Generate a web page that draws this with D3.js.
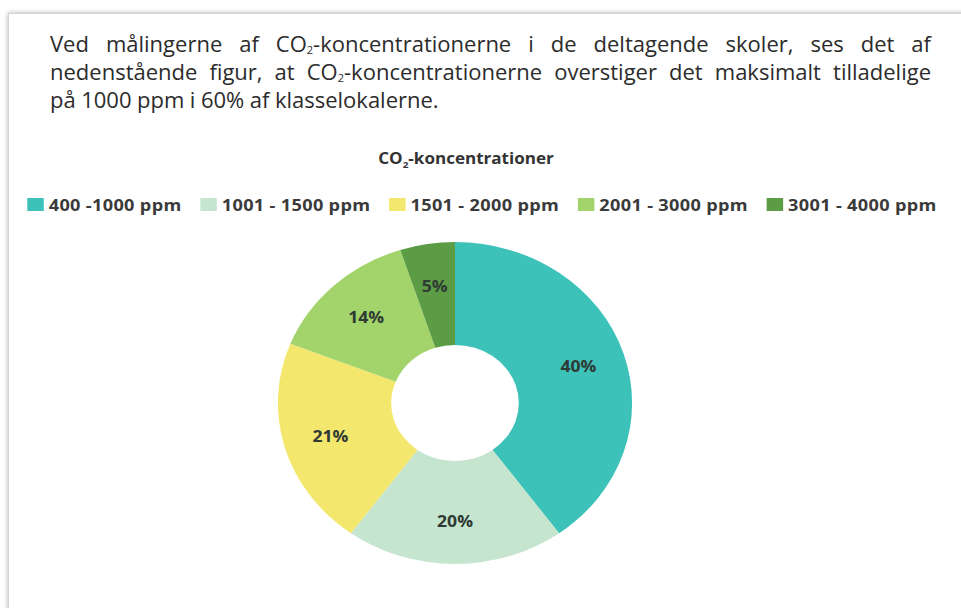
<!DOCTYPE html>
<html>
<head>
<meta charset="utf-8">
<script src="https://cdn.jsdelivr.net/npm/d3@7"></script>
<style>
html, body { margin: 0; padding: 0; background: #fff; }
svg { display: block; }
</style>
</head>
<body>
<svg id="chart" width="961" height="608"></svg>
<script>
// data
const categories = ["400 -1000 ppm", "1001 - 1500 ppm", "1501 - 2000 ppm", "2001 - 3000 ppm", "3001 - 4000 ppm"];
const shares = [40, 20, 21, 14, 5];
const sliceColors = ["#3cc2b8", "#c5e5cf", "#f4e76e", "#a3d46c", "#5c9c45"];
const chartTitle = "CO_2-koncentrationer";
const paragraphLines = [
    "Ved målingerne af CO_2-koncentrationerne i de deltagende skoler, ses det af",
    "nedenstående figur, at CO_2-koncentrationerne overstiger det maksimalt tilladelige",
    "på 1000 ppm i 60% af klasselokalerne."
];

const svg = d3.select("#chart");
const font = "'Open Sans', 'Noto Sans', sans-serif";

// "_2" marks a subscript 2
const richText = (t, str, subSize, subDy) => {
    str.split("_2").forEach((p, i) => {
        if (i > 0) {
            t.append("tspan").attr("dy", subDy).attr("font-size", subSize).text("2");
            t.append("tspan").attr("dy", -subDy).text(p);
        } else {
            t.append("tspan").text(p);
        }
    });
    return t;
};

// page sheet with shadow
const defs = svg.append("defs");
const f = defs.append("filter").attr("id", "shadow").attr("x", "-5%").attr("y", "-5%")
    .attr("width", "110%").attr("height", "110%");
f.append("feDropShadow").attr("dx", 0).attr("dy", 0).attr("stdDeviation", 2.5)
    .attr("flood-color", "#000").attr("flood-opacity", 0.3);

svg.append("rect")
    .attr("x", 8.5).attr("y", 13.5)
    .attr("width", 1100).attr("height", 900)
    .attr("fill", "#fff")
    .attr("stroke", "#d4d4d4")
    .attr("filter", "url(#shadow)");

// paragraph
const textLeft = 50, textRight = 931;
const lineY = [52, 80, 108];
const body = svg.append("g")
    .attr("font-family", font)
    .attr("font-size", 22)
    .attr("fill", "#2b2b2b");

paragraphLines.forEach((line, li) => {
    const justify = li < paragraphLines.length - 1;
    const lg = body.append("g").attr("transform", `translate(${textLeft},${lineY[li]})`);
    const words = line.split(" ").map(w => richText(lg.append("text").attr("x", 0).attr("y", 0), w, 11, 2));
    const widths = words.map(w => w.node().getComputedTextLength());
    const total = d3.sum(widths);
    const avail = textRight - textLeft;
    let gap = justify ? (avail - total) / (words.length - 1) : 5.5;
    let squeeze = 1;
    if (gap < 3) { gap = 3; squeeze = avail / (total + gap * (words.length - 1)); }
    let x = 0;
    words.forEach((w, i) => { w.attr("x", x); x += widths[i] + gap; });
    if (squeeze !== 1) lg.attr("transform", `translate(${textLeft},${lineY[li]}) scale(${squeeze},1)`);
});

// chart area, stretched horizontally like the reference
const sx = 1.1;
const chart = svg.append("g").attr("transform", `scale(${sx},1)`);

richText(chart.append("text")
    .attr("x", 466 / sx).attr("y", 164)
    .attr("text-anchor", "middle")
    .attr("font-family", font)
    .attr("font-size", 15.5)
    .attr("font-weight", "bold")
    .attr("fill", "#333"), chartTitle, 9, 4);

// legend
const legendY = 211, sw = 15, sh = 13;
const legend = chart.append("g")
    .attr("font-family", font)
    .attr("font-size", 16.5)
    .attr("font-weight", "bold")
    .attr("letter-spacing", 0.3)
    .attr("fill", "#3a3a3a");
const items = legend.selectAll("g").data(categories).join("g");
items.append("rect")
    .attr("y", legendY - sh).attr("width", sw).attr("height", sh)
    .attr("fill", (d, i) => sliceColors[i]);
items.append("text")
    .attr("x", sw + 4.5).attr("y", legendY)
    .text(d => d);
const itemW = items.nodes().map(n => sw + 4.5 + d3.select(n).select("text").node().getComputedTextLength());
const itemGap = 17;
const legendW = d3.sum(itemW) + itemGap * (itemW.length - 1);
let lx = 482 / sx - legendW / 2;
items.attr("transform", (d, i) => {
    const x = lx; lx += itemW[i] + itemGap; return `translate(${x},0)`;
});

// doughnut
const cx = 455 / sx, cy = 403;
const rOuter = 161, rInner = 58, rLabel = 118;
const pie = d3.pie().sort(null).value(d => d);
const arc = d3.arc().innerRadius(rInner).outerRadius(rOuter);
const labelArc = d3.arc().innerRadius(rLabel).outerRadius(rLabel);
const slices = pie(shares);

const ring = chart.append("g").attr("transform", `translate(${cx},${cy})`);
ring.selectAll("path")
    .data(slices)
    .join("path")
    .attr("d", arc)
    .attr("fill", (d, i) => sliceColors[i]);

ring.selectAll("text")
    .data(slices)
    .join("text")
    .attr("transform", d => `translate(${labelArc.centroid(d)})`)
    .attr("text-anchor", "middle")
    .attr("dy", "0.36em")
    .attr("font-family", font)
    .attr("font-size", 16)
    .attr("font-weight", "bold")
    .attr("fill", "#2f3a34")
    .text(d => d.data + "%");
</script>
</body>
</html>
